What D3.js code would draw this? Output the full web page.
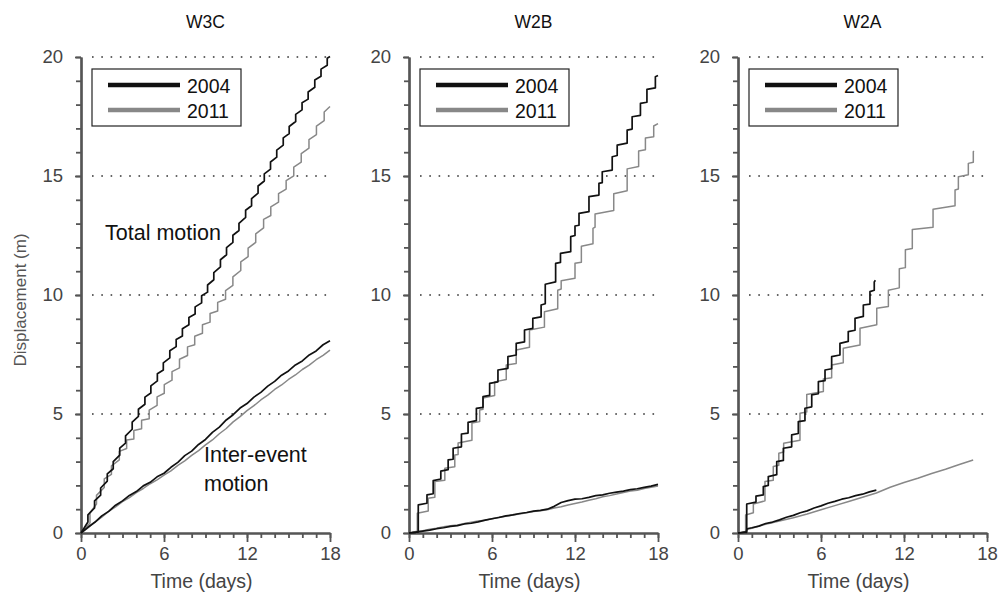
<!DOCTYPE html>
<html><head><meta charset="utf-8">
<script src="https://cdn.jsdelivr.net/npm/d3@7"></script>
<style>
body{margin:0;background:#fff}
text{font-family:"Liberation Sans",Arial,Helvetica,sans-serif}
</style>
</head><body>
<svg id="chart" width="998" height="599"></svg>
<script>
// ---------------- DATA ----------------
const panelTitles = ["W3C", "W2B", "W2A"];
const seriesYears = ["2004", "2011"];
const xMajorTicks = [0, 6, 12, 18];
const yMajorTicks = [0, 5, 10, 15, 20];
const xLabel = "Time (days)";
const yLabel = "Displacement (m)";

// Total motion: stick-slip events as [time (days), displacement before, displacement after]; last entry = end point
const w3cTotal2004 = [[0.5,0.46,0.76],[0.98,1.05,1.35],[1.42,1.59,1.89],[1.9,2.18,2.48],[2.33,2.70,3.00],[2.8,3.27,3.57],[3.22,3.78,4.08],[3.7,4.36,4.66],[4.15,4.90,5.20],[4.62,5.41,5.71],[5.05,5.88,6.18],[5.52,6.39,6.69],[5.95,6.85,7.15],[6.42,7.36,7.66],[6.88,7.83,8.13],[7.33,8.28,8.58],[7.8,8.75,9.05],[8.25,9.20,9.50],[8.72,9.67,9.97],[9.15,10.12,10.42],[9.6,10.64,10.94],[10.08,11.18,11.48],[10.52,11.69,11.99],[10.98,12.21,12.51],[11.42,12.71,13.01],[11.9,13.26,13.56],[12.33,13.75,14.05],[12.8,14.28,14.58],[13.25,14.79,15.09],[13.7,15.29,15.59],[14.15,15.79,16.09],[14.62,16.30,16.60],[15.05,16.78,17.08],[15.52,17.29,17.59],[15.98,17.78,18.08],[16.42,18.23,18.53],[16.9,18.73,19.03],[17.35,19.19,19.49],[17.8,19.65,19.95],[18,20.02,20.02]];
const w3cTotal2011 = [[0.65,0.42,0.85],[1.12,1.22,1.58],[1.68,1.91,2.27],[2.2,2.46,2.82],[2.77,3.07,3.43],[3.3,3.55,3.91],[3.82,3.95,4.31],[4.38,4.38,4.74],[4.93,4.80,5.16],[5.5,5.36,5.72],[6.02,5.87,6.23],[6.58,6.42,6.78],[7.12,6.94,7.30],[7.7,7.46,7.82],[8.22,7.91,8.27],[8.78,8.39,8.75],[9.33,8.86,9.22],[9.88,9.33,9.69],[10.45,9.82,10.18],[10.98,10.40,10.76],[11.55,11.03,11.39],[12.08,11.61,11.97],[12.63,12.21,12.57],[13.2,12.82,13.18],[13.72,13.34,13.70],[14.28,13.90,14.26],[14.83,14.45,14.81],[15.38,15.01,15.37],[15.92,15.58,15.94],[16.48,16.17,16.53],[17.02,16.74,17.10],[17.58,17.33,17.69],[18,17.92,17.92]];
const w2bTotal2004 = [[0.67,0.05,1.18],[1.3,1.25,1.6],[1.75,1.65,2.2],[2.3,2.27,2.6],[2.83,2.66,3.07],[3.19,3.1,3.56],[3.79,3.62,4.16],[4.27,4.2,4.65],[4.87,4.72,5.24],[5.35,5.28,5.73],[5.83,5.78,6.29],[6.43,6.35,6.85],[7.15,6.92,7.41],[7.75,7.48,7.97],[8.35,8.03,8.53],[8.95,8.6,9.02],[9.55,9.08,9.58],[9.85,9.63,10.45],[10.6,10.55,11.33],[10.95,11.37,11.75],[11.69,11.82,12.45],[12.0,12.5,12.9],[12.29,12.93,13.43],[13.01,13.5,14.13],[13.73,14.2,14.69],[13.97,14.72,15.18],[14.69,15.25,15.81],[15.05,15.86,16.3],[15.77,16.38,16.93],[16.13,16.97,17.49],[16.73,17.55,18.05],[17.2,18.1,18.64],[17.81,18.7,19.17],[18,19.22,19.22]];
const w2bTotal2011 = [[0.6,0.05,0.83],[1.39,0.92,1.46],[1.87,1.5,2.16],[2.59,2.22,2.72],[3.31,2.78,3.28],[3.55,3.3,3.78],[4.55,3.9,4.62],[5.11,4.68,5.17],[5.35,5.2,5.67],[6.19,5.78,6.35],[7.03,6.45,7.06],[7.75,7.12,7.69],[8.71,7.8,8.53],[9.79,8.65,9.3],[10.75,9.42,10.2],[11.0,10.25,10.6],[12.0,10.7,11.33],[12.46,11.38,12.05],[13.3,12.15,12.8],[13.45,12.85,13.4],[14.8,13.55,14.25],[15.77,14.38,15.3],[16.6,15.4,16.05],[17.09,16.1,16.6],[17.69,16.65,17.1],[18,17.2,17.2]];
const w2aTotal2004 = [[0.63,0.03,1.22],[1.3,1.3,1.55],[1.83,1.6,1.95],[2.19,2.0,2.37],[2.8,2.45,3.0],[3.28,3.05,3.56],[3.88,3.62,4.12],[4.36,4.18,4.68],[4.84,4.72,5.24],[5.33,5.3,5.8],[5.81,5.85,6.36],[6.29,6.4,6.85],[6.77,6.9,7.41],[7.37,7.48,7.97],[7.97,8.05,8.46],[8.46,8.52,9.02],[9.06,9.1,9.58],[9.54,9.62,10.14],[9.85,10.2,10.55],[9.93,10.62,10.62]];
const w2aTotal2011 = [[0.55,0.02,0.76],[1.11,0.85,1.22],[1.95,1.35,2.16],[2.55,2.22,2.79],[2.95,2.85,3.35],[3.3,3.4,3.77],[4.48,3.9,5.03],[4.97,5.08,5.82],[6.17,5.95,6.47],[6.77,6.52,7.06],[7.61,7.15,7.76],[8.82,7.9,8.6],[10.03,8.75,9.44],[10.87,9.52,10.2],[11.66,10.3,11.1],[12.1,11.15,11.9],[12.6,11.95,12.75],[14.1,12.85,13.6],[15.69,13.75,14.41],[15.93,14.45,14.97],[16.65,15.05,15.53],[17.01,15.58,16.02],[17.05,16.05,16.05]];

// Inter-event motion: times (days) and displacement (m)
const halfDayTimes = [0,0.5,1,1.5,2,2.5,3,3.5,4,4.5,5,5.5,6,6.5,7,7.5,8,8.5,9,9.5,10,10.5,11,11.5,12,12.5,13,13.5,14,14.5,15,15.5,16,16.5,17,17.5,18];
const w3cInter2004 = [0,0.24,0.45,0.72,0.91,1.17,1.35,1.58,1.74,1.98,2.13,2.36,2.51,2.76,2.97,3.25,3.44,3.72,3.93,4.23,4.45,4.75,4.97,5.25,5.44,5.71,5.91,6.17,6.37,6.63,6.81,7.06,7.23,7.48,7.65,7.91,8.08];
const w3cInter2011 = [0,0.21,0.46,0.67,0.91,1.10,1.32,1.49,1.70,1.87,2.07,2.23,2.43,2.61,2.84,3.03,3.26,3.46,3.70,3.91,4.17,4.39,4.67,4.89,5.14,5.35,5.59,5.79,6.03,6.22,6.45,6.64,6.87,7.05,7.28,7.46,7.68];
const w2bInter2004 = [0,0.03,0.08,0.12,0.18,0.22,0.28,0.31,0.38,0.41,0.47,0.54,0.60,0.65,0.72,0.76,0.82,0.86,0.92,0.95,1.00,1.12,1.28,1.36,1.42,1.44,1.50,1.57,1.60,1.67,1.72,1.76,1.82,1.86,1.92,1.97,2.04];
const w2bInter2011 = [0,0.06,0.10,0.16,0.20,0.26,0.30,0.34,0.40,0.45,0.50,0.54,0.60,0.66,0.70,0.76,0.80,0.85,0.90,0.93,0.98,1.05,1.10,1.18,1.24,1.30,1.38,1.44,1.52,1.57,1.64,1.70,1.76,1.80,1.87,1.92,1.97];
const w2aInterTimes2004 = [0,0.6,0.65,1,1.5,2,2.5,3,3.5,4,4.5,5,5.5,6,6.5,7,7.5,8,8.5,9,9.5,10];
const w2aInter2004 = [0,0.05,0.18,0.22,0.29,0.40,0.46,0.55,0.66,0.74,0.85,0.93,1.05,1.14,1.25,1.33,1.42,1.48,1.57,1.63,1.73,1.80];
const w2aInterTimes2011 = [0,0.55,0.6,1,2,3,4,5,6,7,8,9,10,11,12,13,14,15,16,17];
const w2aInter2011 = [0,0.05,0.15,0.20,0.37,0.50,0.64,0.80,0.98,1.15,1.32,1.50,1.68,1.92,2.12,2.30,2.50,2.68,2.88,3.07];

// ---------------- BUILD ----------------
function stairs(events){
  const pts = [[0,0]];
  events.forEach(e => { pts.push([e[0], e[1]]); pts.push([e[0], e[2]]); });
  return pts;
}
function zipPts(ts, vs){ return ts.map((t,i)=>[t, vs[i]]); }

const panels = [
  {title: panelTitles[0], total: [stairs(w3cTotal2004), stairs(w3cTotal2011)],
   inter: [zipPts(halfDayTimes, w3cInter2004), zipPts(halfDayTimes, w3cInter2011)]},
  {title: panelTitles[1], total: [stairs(w2bTotal2004), stairs(w2bTotal2011)],
   inter: [zipPts(halfDayTimes, w2bInter2004), zipPts(halfDayTimes, w2bInter2011)]},
  {title: panelTitles[2], total: [stairs(w2aTotal2004), stairs(w2aTotal2011)],
   inter: [zipPts(w2aInterTimes2004, w2aInter2004), zipPts(w2aInterTimes2011, w2aInter2011)]}
];

// ---------------- LAYOUT ----------------
const svg = d3.select("#chart");
const panelLeft = [81, 409, 738];
const plotW = 249, yBottom = 533, yTop = 57;
const colors = ["#111111", "#888888"];
const widths = [1.7, 1.5];
const axisColor = "#555";

panels.forEach((p, i) => {
  const x0 = panelLeft[i];
  const x = d3.scaleLinear().domain([0, 18]).range([x0, x0 + plotW]);
  const y = d3.scaleLinear().domain([0, 20]).range([yBottom, yTop]);
  const g = svg.append("g");

  // dotted gridlines
  [5, 10, 15, 20].forEach(v => {
    g.append("line").attr("x1", x0 + 11).attr("x2", x0 + plotW).attr("y1", y(v)).attr("y2", y(v))
      .attr("stroke", "#333").attr("stroke-width", 1.6).attr("stroke-dasharray", "1.6,7.7");
  });

  // axes: minor + major ticks
  const yMinor = g.append("g").attr("transform", `translate(${x0},0)`)
    .call(d3.axisLeft(y).tickValues(d3.range(0, 21, 1)).tickSize(5).tickSizeOuter(0).tickFormat(""));
  const yMajor = g.append("g").attr("transform", `translate(${x0},0)`)
    .call(d3.axisLeft(y).tickValues(yMajorTicks).tickSize(6).tickSizeOuter(0).tickPadding(12));
  const xMinor = g.append("g").attr("transform", `translate(0,${yBottom})`)
    .call(d3.axisBottom(x).tickValues(d3.range(0, 19, 1)).tickSize(5).tickSizeOuter(0).tickFormat(""));
  const xMajor = g.append("g").attr("transform", `translate(0,${yBottom})`)
    .call(d3.axisBottom(x).tickValues(xMajorTicks).tickSize(9).tickSizeOuter(0).tickPadding(5));
  [yMinor, yMajor, xMinor, xMajor].forEach(a => {
    a.select(".domain").attr("stroke", axisColor).attr("stroke-width", 2.2);
    a.selectAll(".tick line").attr("stroke", axisColor).attr("stroke-width", 1.8);
    a.selectAll(".tick text").attr("fill", "#444").attr("font-size", 18.5)
      .style("font-family", '"Liberation Sans",Arial,Helvetica,sans-serif');
  });

  // lines (2011 first, 2004 on top)
  const line = d3.line().x(d => x(d[0])).y(d => y(d[1]));
  [1, 0].forEach(k => {
    g.append("path").datum(p.inter[k]).attr("d", line).attr("fill", "none")
      .attr("stroke", colors[k]).attr("stroke-width", widths[k]).attr("stroke-linejoin", "round");
    g.append("path").datum(p.total[k]).attr("d", line).attr("fill", "none")
      .attr("stroke", colors[k]).attr("stroke-width", widths[k]).attr("stroke-linejoin", "round");
  });

  // title
  g.append("text").attr("x", x0 + plotW / 2).attr("y", 28).attr("text-anchor", "middle")
    .attr("font-size", 17.5).attr("fill", "#111").text(p.title);
  // x label
  g.append("text").attr("x", x0 + plotW / 2 - 4).attr("y", 588).attr("text-anchor", "middle")
    .attr("font-size", 19.5).attr("fill", "#444").text(xLabel);

  // legend
  const lg = g.append("g");
  lg.append("rect").attr("x", x0 + 11).attr("y", 69).attr("width", 149).attr("height", 57)
    .attr("fill", "#fff").attr("stroke", "#222").attr("stroke-width", 1.2);
  seriesYears.forEach((yr, k) => {
    const ly = 85 + k * 25;
    lg.append("line").attr("x1", x0 + 27).attr("x2", x0 + 99).attr("y1", ly).attr("y2", ly)
      .attr("stroke", colors[k]).attr("stroke-width", 4.5);
    lg.append("text").attr("x", x0 + 106).attr("y", ly + 7.5).attr("font-size", 19.5)
      .attr("fill", "#111").text(yr);
  });
});

// y label
svg.append("text").attr("transform", "translate(26,300) rotate(-90)").attr("text-anchor", "middle")
  .attr("font-size", 17).attr("fill", "#555").text(yLabel);

// annotations (panel 1)
svg.append("text").attr("x", 105).attr("y", 240).attr("font-size", 21.5).attr("fill", "#111").text("Total motion");
svg.append("text").attr("x", 204).attr("y", 462).attr("font-size", 21.5).attr("fill", "#111").text("Inter-event");
svg.append("text").attr("x", 204).attr("y", 491).attr("font-size", 21.5).attr("fill", "#111").text("motion");
</script>
</body></html>
